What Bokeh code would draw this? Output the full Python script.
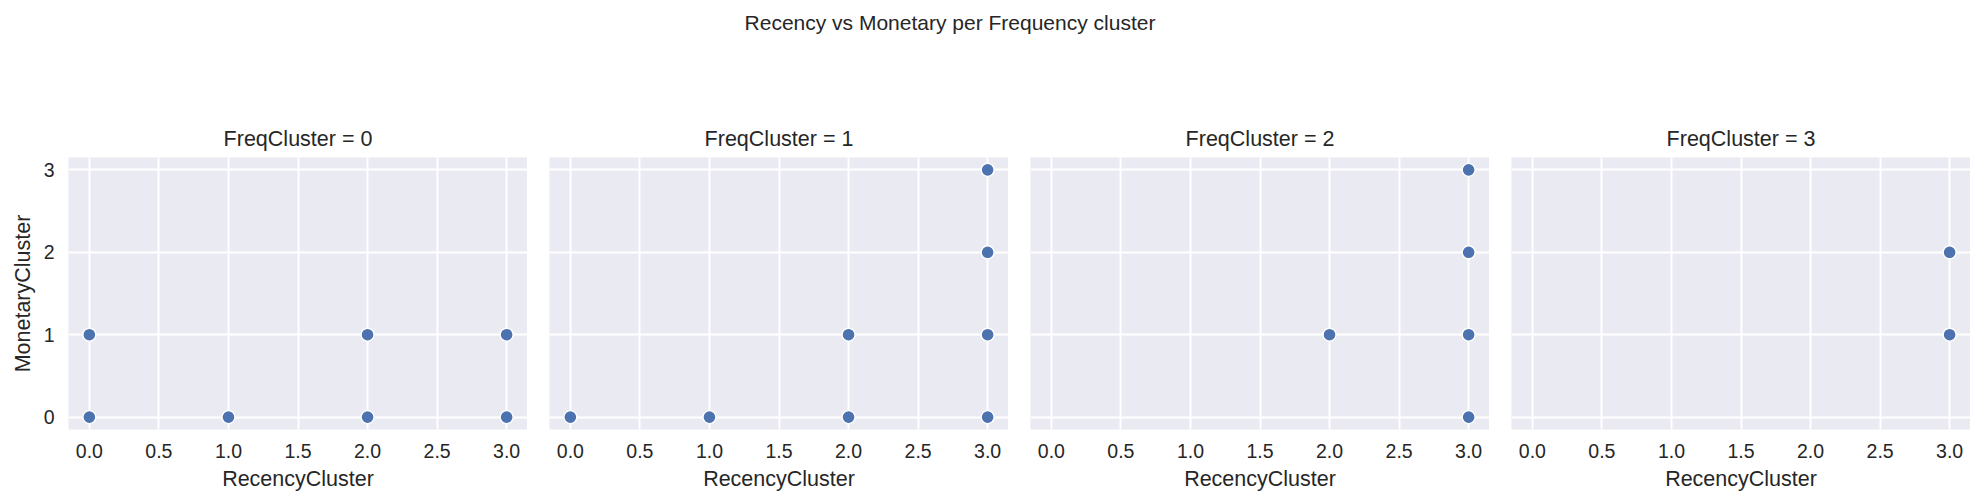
"""
Recency vs Monetary per Frequency cluster, one small scatter panel per cluster.
"""

from bokeh.embed import file_html
from bokeh.layouts import column, row
from bokeh.models import Div, FixedTicker, NumeralTickFormatter
from bokeh.plotting import figure
from bokeh.resources import INLINE

# data per FreqCluster: (RecencyCluster, MonetaryCluster) points
freq_clusters = [0, 1, 2, 3]
recency = [
    [0, 0, 1, 2, 2, 3, 3],
    [0, 1, 2, 2, 3, 3, 3, 3],
    [2, 3, 3, 3, 3],
    [3, 3],
]
monetary = [
    [1, 0, 0, 1, 0, 1, 0],
    [0, 0, 1, 0, 3, 2, 1, 0],
    [1, 3, 2, 1, 0],
    [2, 1],
]
x_ticks = [0, 0.5, 1, 1.5, 2, 2.5, 3]
y_ticks = [0, 1, 2, 3]

FONT = "Liberation Sans"
TEXT = "#262626"
BG = "#eaeaf2"
BLUE = "#4c72b0"


def make_panel(i: int) -> figure:
    """Builds one facet panel."""
    first = i == 0
    p = figure(frame_width=459, frame_height=272, x_range=(-0.15, 3.15), y_range=(-0.15, 3.15),
               output_backend="svg", toolbar_location=None,
               min_border_left=68 if first else 22, min_border_right=0,
               min_border_top=115, min_border_bottom=60)
    p.background_fill_color = BG
    p.border_fill_color = "white"
    p.outline_line_color = None

    p.title.text = f"FreqCluster = {freq_clusters[i]}"
    p.title.align = "center"
    p.title.text_font = FONT
    p.title.text_font_size = "21.5px"
    p.title.text_font_style = "normal"
    p.title.text_color = TEXT
    p.title.standoff = 14

    p.xaxis.ticker = FixedTicker(ticks=x_ticks)
    p.xaxis.formatter = NumeralTickFormatter(format="0.0")
    p.xaxis.axis_label = "RecencyCluster"
    p.yaxis.ticker = FixedTicker(ticks=y_ticks)
    if first:
        p.yaxis.axis_label = "MonetaryCluster"
    else:
        p.yaxis.visible = False

    for ax in p.axis:
        ax.axis_line_color = None
        ax.major_tick_line_color = None
        ax.minor_tick_line_color = None
        ax.major_tick_out = 0
        ax.major_tick_in = 0
        ax.major_label_standoff = 14
        ax.major_label_text_font = FONT
        ax.major_label_text_font_size = "19.5px"
        ax.major_label_text_color = TEXT
        ax.axis_label_text_font = FONT
        ax.axis_label_text_font_size = "21.5px"
        ax.axis_label_text_font_style = "normal"
        ax.axis_label_text_color = TEXT
        ax.axis_label_standoff = 6

    p.grid.grid_line_color = "white"
    p.grid.grid_line_width = 2

    p.scatter(recency[i], monetary[i], size=13, fill_color=BLUE, line_color="white", line_width=1.4)
    return p


panels = [make_panel(i) for i in range(len(freq_clusters))]

title = Div(text="Recency vs Monetary per Frequency cluster", width=1890, height=32,
            styles={"font-family": FONT, "font-size": "21px", "color": TEXT,
                    "text-align": "center", "line-height": "36px", "width": "1890px"})

layout = column(title, row(*panels, spacing=0), spacing=0)

open("out.html", "w").write(file_html(layout, INLINE))
